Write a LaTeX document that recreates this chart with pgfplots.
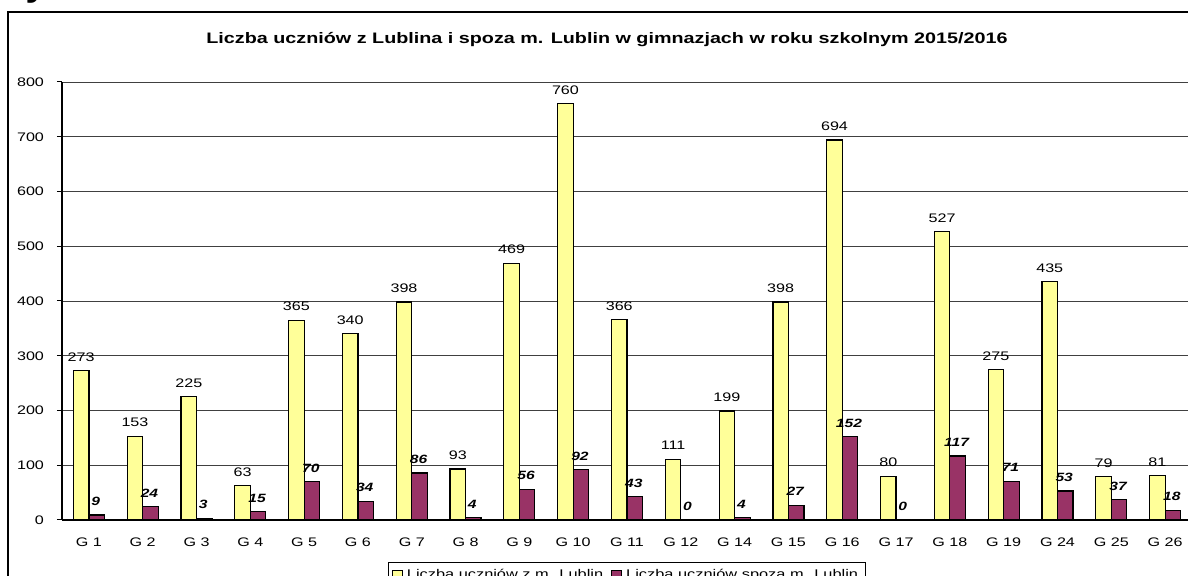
\documentclass[border=0pt]{standalone}
\usepackage{fontspec}
\setmainfont{Liberation Sans}[FakeStretch=1.3]
\usepackage{pgfplots}
\pgfplotsset{compat=1.18}
\definecolor{jasny}{HTML}{FFFF99}
\definecolor{bordo}{HTML}{993366}

\pgfplotstableread{
idx name z spoza
0  {G 1}  273 9
1  {G 2}  153 24
2  {G 3}  225 3
3  {G 4}  63  15
4  {G 5}  365 70
5  {G 6}  340 34
6  {G 7}  398 86
7  {G 8}  93  4
8  {G 9}  469 56
9  {G 10} 760 92
10 {G 11} 366 43
11 {G 12} 111 0
12 {G 14} 199 4
13 {G 15} 398 27
14 {G 16} 694 152
15 {G 17} 80  0
16 {G 18} 527 117
17 {G 19} 275 71
18 {G 24} 435 53
19 {G 25} 79  37
20 {G 26} 81  18
}\dane

\begin{document}
\begin{tikzpicture}[x=1pt,y=1pt]
\path[use as bounding box, clip] (0,0) rectangle (594,288);
% fragment of the heading above the frame
\node[anchor=base west, inner sep=0pt, font=\fontsize{14}{16}\selectfont\bfseries] at (-0.5,289) {Rysunek};
% outer frame
\draw[line width=0.75pt] (4,-20) rectangle (620,282);
\node[font=\fontsize{7.6}{9}\selectfont\bfseries] at (303.5,268) {Liczba uczniów z Lublina i spoza m. Lublin w gimnazjach w roku szkolnym 2015/2016};
\begin{axis}[
    at={(31pt,28pt)}, anchor=south west,
    scale only axis, width=565pt, height=219pt,
    ybar, bar width=0.288,
    xmin=-0.5, xmax=20.5, ymin=0, ymax=800,
    ytick={0,100,...,800},
    xtick={0,...,20},
    xticklabels from table={\dane}{name},
    extra x ticks={-0.5,0.5,...,20.5},
    extra x tick labels={},
    extra x tick style={major tick length=5pt, tick style={black, line width=0.5pt}, xtick pos=bottom, tick align=outside},
    major x tick style={draw=none},
    ytick style={black, line width=0.5pt},
    tick align=outside, major tick length=2.5pt,
    axis x line*=bottom, axis y line*=left,
    axis line style={black, line width=0.6pt, -},
    ymajorgrids, grid style={black!75, line width=0.4pt},
    tick label style={font=\fontsize{6.2}{7}\selectfont},
    /pgf/number format/assume math mode=true,
    yticklabel style={xshift=-3pt},
    xticklabel style={yshift=-3pt},
    clip=false,
    legend columns=2,
    legend style={at={(rel axis cs:0.5,-0.096)}, anchor=north, draw=black, line width=0.5pt,
        font=\fontsize{6.3}{7.5}\selectfont, inner sep=1.5pt, row sep=0pt,
        /tikz/every even column/.append style={column sep=2pt}},
    legend image code/.code={\draw[#1, line width=0.5pt] (0pt,-2.5pt) rectangle (5pt,2.5pt);},
]
\addplot[fill=jasny, draw=black, line width=0.6pt, bar shift=-0.144,
    nodes near coords, nodes near coords style={font=\fontsize{6.2}{7}\selectfont, black, yshift=1pt}]
    table[x=idx, y=z] {\dane};
\addplot[fill=bordo, draw=black, line width=0.6pt, bar shift=0.144,
    nodes near coords, nodes near coords style={font=\fontsize{6}{7}\selectfont\bfseries\itshape, black, yshift=1pt, xshift=-0.5pt}]
    table[x=idx, y=spoza] {\dane};
\legend{Liczba uczniów z m. Lublin, Liczba uczniów spoza m. Lublin}
\end{axis}
\end{tikzpicture}
\end{document}
